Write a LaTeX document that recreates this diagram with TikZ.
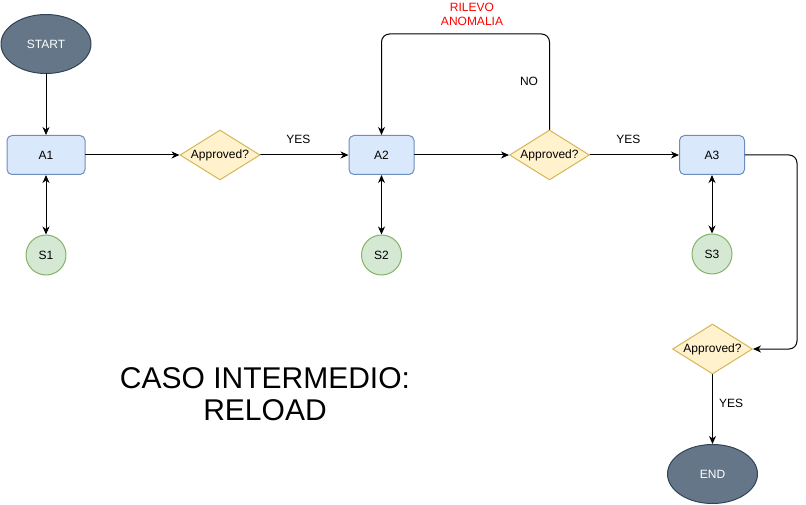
\documentclass[tikz,border=0pt]{standalone}
\usepackage{fontspec}
\setmainfont{Liberation Sans}
\usetikzlibrary{arrows.meta,shapes.geometric}
\definecolor{termfill}{HTML}{647687}
\definecolor{termline}{HTML}{314354}
\definecolor{actfill}{HTML}{DAE8FC}
\definecolor{actline}{HTML}{6C8EBF}
\definecolor{chkfill}{HTML}{FFF2CC}
\definecolor{chkline}{HTML}{D6B656}
\definecolor{stofill}{HTML}{D5E8D4}
\definecolor{stoline}{HTML}{82B366}

\begin{document}
\begin{tikzpicture}[x=1pt,y=-1pt,>={Stealth[length=8pt,width=7pt,inset=2.5pt]},line cap=round,line join=round,
  terminal/.style={ellipse,draw=termline,fill=termfill,line width=1pt,minimum width=90pt,minimum height=59pt,inner sep=0pt,text=white,font=\fontsize{12}{14}\selectfont},
  activity/.style={rectangle,rounded corners=5pt,draw=actline,fill=actfill,line width=1pt,minimum height=39pt,inner sep=0pt,font=\fontsize{12}{14}\selectfont},
  check/.style={diamond,aspect=1.6,draw=chkline,fill=chkfill,line width=1pt,minimum width=80pt,minimum height=50pt,inner sep=0pt,font=\fontsize{12}{14}\selectfont},
  store/.style={circle,draw=stoline,fill=stofill,line width=1pt,minimum size=40pt,inner sep=0pt,font=\fontsize{12}{14}\selectfont},
  flow/.style={->,line width=1pt},
  link/.style={<->,line width=1pt},
  lbl/.style={inner sep=0pt,font=\fontsize{12}{14}\selectfont}]
\useasboundingbox (0,0) rectangle (806,505);
\node[terminal] (start) at (46,44) {START};
\node[activity,minimum width=78pt] (a1) at (46,155) {A1};
\node[check] (c1) at (220,155) {Approved?};
\node[activity,minimum width=65pt] (a2) at (381.5,155) {A2};
\node[check] (c2) at (549.5,155) {Approved?};
\node[activity,minimum width=65pt] (a3) at (712,155) {A3};
\node[store] (s1) at (46,255) {S1};
\node[store] (s2) at (381.5,255) {S2};
\node[store] (s3) at (712,254) {S3};
\node[check] (c3) at (712.5,349) {Approved?};
\node[terminal] (end) at (712.5,474) {END};
\node[font=\fontsize{30}{32}\selectfont,align=center] (title) at (265,394) {CASO INTERMEDIO:\\RELOAD};
\node[lbl,text=red,align=center] (anomalia) at (472,14) {RILEVO\\ANOMALIA};
\coordinate (top) at (0,34);
\coordinate (edge) at (797,0);
\draw[flow] (start) -- (a1);
\draw[flow] (a1) -- (c1);
\draw[flow] (c1) -- node[lbl,above=11pt,pos=0.43] {YES} (a2);
\draw[flow] (a2) -- (c2);
\draw[flow] (c2) -- node[lbl,above=11pt,pos=0.43] {YES} (a3);
\draw[link] (a1) -- (s1);
\draw[link] (a2) -- (s2);
\draw[link] (a3) -- (s3);
\draw[flow,rounded corners=8pt] (c2.north) -- node[lbl,left=11pt] {NO} (c2.north |- top) -| (a2.north);
\draw[flow,rounded corners=8pt] (a3.east) -- (a3.east -| edge) |- (c3.east);
\draw[flow] (c3) -- node[lbl,right=6pt,pos=0.42] {YES} (end);
\end{tikzpicture}
\end{document}
